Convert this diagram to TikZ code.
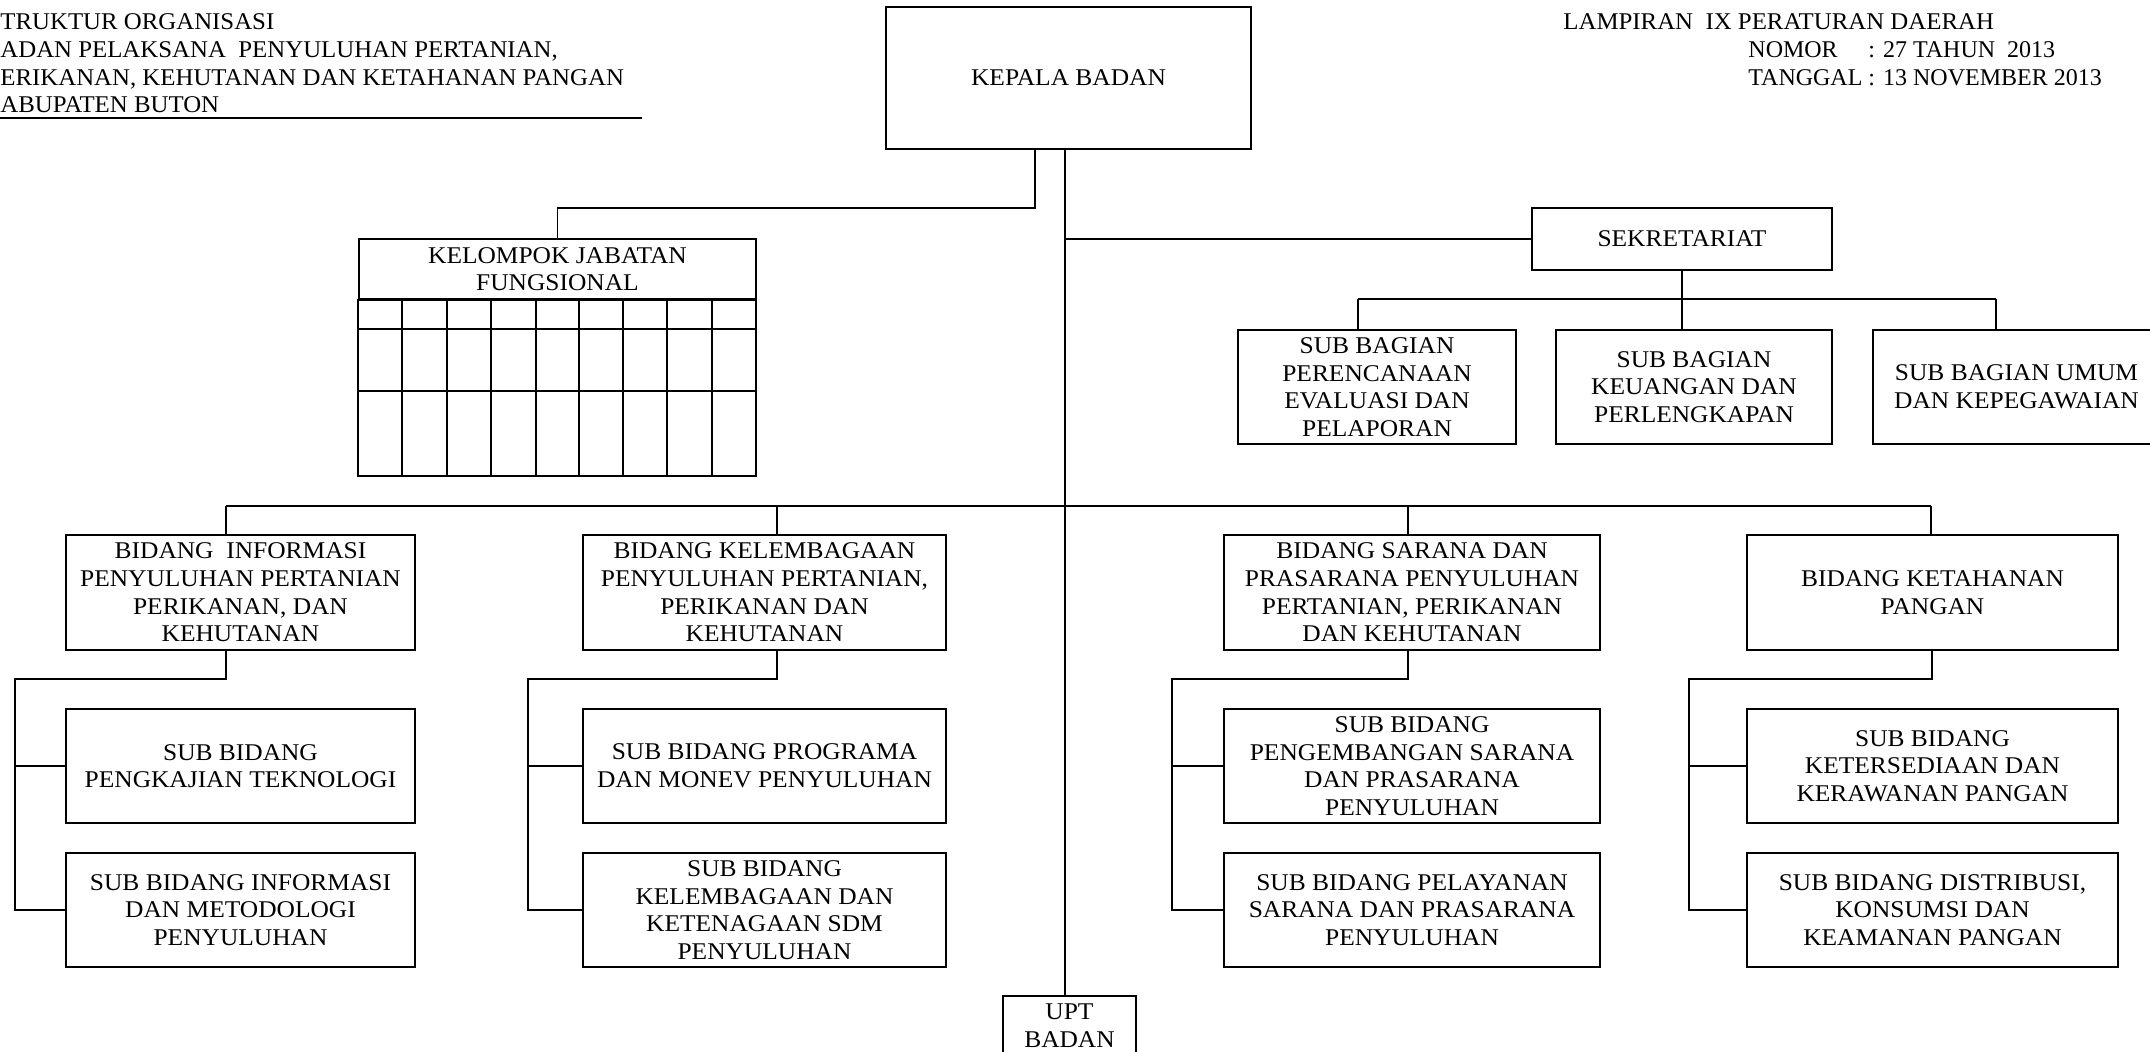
\documentclass[tikz,border=0pt]{standalone}
\usepackage{fontspec}
\setmainfont{Liberation Serif}[FakeStretch=1.06]
\newfontfamily\headfont{Liberation Serif}[FakeStretch=1.035]
\newfontfamily\datefont{Liberation Serif}
\newcommand{\orgfont}{\fontsize{12pt}{13.8pt}\selectfont}
\begin{document}
\begin{tikzpicture}[x=0.5pt,y=-0.5pt,
  unitbox/.style={draw, line width=0.9pt, inner sep=0pt, align=center, font=\orgfont},
  link/.style={line width=0.9pt},
  plain/.style={inner sep=0pt, font=\orgfont, anchor=base west}]
\useasboundingbox[fill=white] (0,0) rectangle (2150,1052);

% header texts
\node[plain, font=\orgfont\headfont] (title) at (0,30) {\begin{tabular}[t]{@{}l@{}}TRUKTUR ORGANISASI\\ADAN PELAKSANA\ \ PENYULUHAN PERTANIAN,\\ERIKANAN, KEHUTANAN DAN KETAHANAN PANGAN\\ABUPATEN BUTON\end{tabular}};
\coordinate (ulA) at (0,118);
\coordinate (ulB) at (642,118);
\draw[link] (ulA) -- (ulB);
\node[plain, font=\orgfont\headfont] (lamp) at (1563,30) {LAMPIRAN\ \ IX PERATURAN DAERAH};
\node[plain, font=\orgfont\datefont] (nomor) at (1748,57.6) {\begin{tabular}[t]{@{}l@{ }l@{}}NOMOR & : 27 TAHUN\ \ 2013\\TANGGAL & : 13 NOVEMBER 2013\end{tabular}};

% head of the agency
\node[unitbox, minimum width=182.5pt, minimum height=71pt] (kepala) at (1068.5,78) {KEPALA BADAN};

% functional group with its grid
\node[unitbox, minimum width=198.5pt, minimum height=30pt] (kjf) at (557.5,269) {KELOMPOK JABATAN\\FUNGSIONAL};
\coordinate (kjfbr) at (756,476);
\draw[link] (kjf.south west) rectangle (kjfbr);
\foreach \yy in {329,391} \draw[link] (359,\yy) -- (756,\yy);
\foreach \xx in {401.7,446.7,491,535.7,579,622.7,666.7,711.7} \draw[link] (\xx,299) -- (\xx,476);

% secretariat
\node[unitbox, minimum width=150pt, minimum height=31pt] (sek) at (1682,239) {SEKRETARIAT};
\node[unitbox, minimum width=139pt, minimum height=57pt] (sb1) at (1377,387) {SUB BAGIAN\\PERENCANAAN\\EVALUASI DAN\\PELAPORAN};
\node[unitbox, minimum width=138pt, minimum height=57pt] (sb2) at (1694,387) {SUB BAGIAN\\KEUANGAN DAN\\PERLENGKAPAN};
\node[unitbox, minimum width=143.5pt, minimum height=57pt] (sb3) at (2016.5,387) {SUB BAGIAN UMUM\\DAN KEPEGAWAIAN};

% divisions
\node[unitbox, minimum width=174.5pt, minimum height=57.5pt] (b1) at (240.5,592.5) {BIDANG\ \ INFORMASI\\PENYULUHAN PERTANIAN\\PERIKANAN, DAN\\KEHUTANAN};
\node[unitbox, minimum width=181.5pt, minimum height=57.5pt] (b2) at (764.5,592.5) {BIDANG KELEMBAGAAN\\PENYULUHAN PERTANIAN,\\PERIKANAN DAN\\KEHUTANAN};
\node[unitbox, minimum width=188pt, minimum height=57.5pt] (b3) at (1412,592.5) {BIDANG SARANA DAN\\PRASARANA PENYULUHAN\\PERTANIAN, PERIKANAN\\DAN KEHUTANAN};
\node[unitbox, minimum width=185.5pt, minimum height=57.5pt] (b4) at (1932.5,592.5) {BIDANG KETAHANAN\\PANGAN};

% sub-divisions
\node[unitbox, minimum width=174.5pt, minimum height=57pt] (s11) at (240.5,766) {SUB BIDANG\\PENGKAJIAN TEKNOLOGI};
\node[unitbox, minimum width=174.5pt, minimum height=57pt] (s12) at (240.5,910) {SUB BIDANG INFORMASI\\DAN METODOLOGI\\PENYULUHAN};
\node[unitbox, minimum width=181.5pt, minimum height=57pt] (s21) at (764.5,766) {SUB BIDANG PROGRAMA\\DAN MONEV PENYULUHAN};
\node[unitbox, minimum width=181.5pt, minimum height=57pt] (s22) at (764.5,910) {SUB BIDANG\\KELEMBAGAAN DAN\\KETENAGAAN SDM\\PENYULUHAN};
\node[unitbox, minimum width=188pt, minimum height=57pt] (s31) at (1412,766) {SUB BIDANG\\PENGEMBANGAN SARANA\\DAN PRASARANA\\PENYULUHAN};
\node[unitbox, minimum width=188pt, minimum height=57pt] (s32) at (1412,910) {SUB BIDANG PELAYANAN\\SARANA DAN PRASARANA\\PENYULUHAN};
\node[unitbox, minimum width=185.5pt, minimum height=57pt] (s41) at (1932.5,766) {SUB BIDANG\\KETERSEDIAAN DAN\\KERAWANAN PANGAN};
\node[unitbox, minimum width=185.5pt, minimum height=57pt] (s42) at (1932.5,910) {SUB BIDANG DISTRIBUSI,\\KONSUMSI DAN\\KEAMANAN PANGAN};

% technical unit
\node[unitbox, minimum width=66.5pt, anchor=north, inner ysep=4pt] (upt) at (1069.5,995) {UPT\\BADAN};

% main spine and branch to the functional group
\coordinate (spine) at (1065,0);
\coordinate (kjfbend) at (1035,208);
\draw[link] (kepala.south -| spine) -- (upt.north -| spine);
\draw[link] (kepala.south -| kjfbend) -- (kjfbend) -| (kjf.north);

% secretariat and its sections
\draw[link] (sek.west) -- (sek.west -| spine);
\coordinate (sd1) at (1358,299);
\coordinate (sd3) at (1996,299);
\draw[link] (sd1) -- (sd3);
\draw[link] (sek.south) -- (sek.south |- sb2.north);
\draw[link] (sd1) -- (sd1 |- sb1.north);
\draw[link] (sd3) -- (sd3 |- sb3.north);

% bus to the divisions
\coordinate (bd1) at (226,506);
\coordinate (bd2) at (777,506);
\coordinate (bd3) at (1408,506);
\coordinate (bd4) at (1931,506);
\draw[link] (bd1) -- (bd4);
\draw[link] (bd1) -- (bd1 |- b1.north);
\draw[link] (bd2) -- (bd2 |- b2.north);
\draw[link] (bd3) -- (bd3 |- b3.north);
\draw[link] (bd4) -- (bd4 |- b4.north);

% divisions to their sub-divisions
\foreach \bx/\lx/\i in {226/15/1, 777/528/2, 1408/1172/3, 1932/1689/4} {
  \coordinate (jd\i) at (\bx,679);
  \coordinate (jl\i) at (\lx,679);
  \draw[link] (b\i.south -| jd\i) -- (jd\i) -- (jl\i) |- (s\i2.west);
  \draw[link] (jl\i |- s\i1.west) -- (s\i1.west);
}
\end{tikzpicture}
\end{document}
